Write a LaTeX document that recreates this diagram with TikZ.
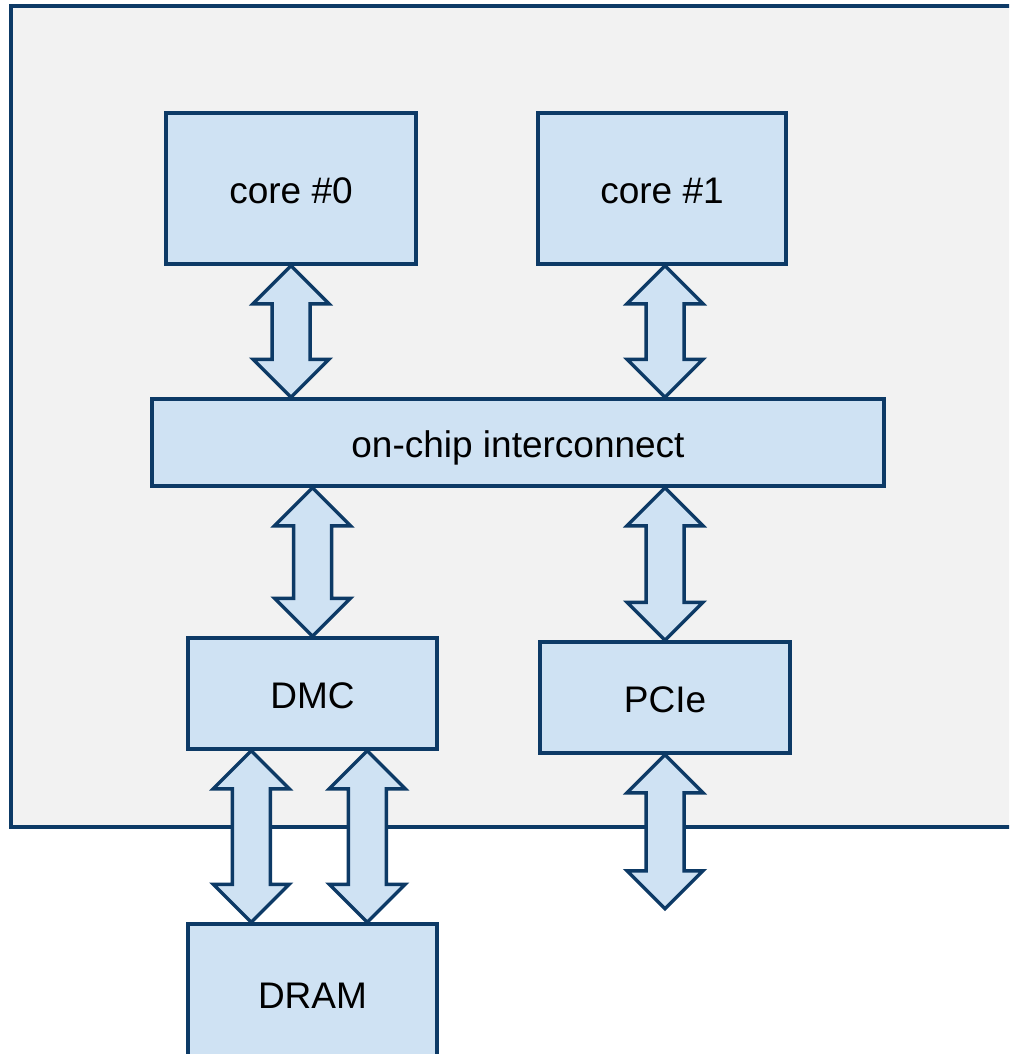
\documentclass[tikz,border=0pt]{standalone}
\usepackage{fontspec}
\setmainfont{Liberation Sans}
\usetikzlibrary{calc}
\definecolor{navy}{HTML}{0D3A66}
\definecolor{boxfill}{HTML}{CFE2F3}
\definecolor{chipfill}{HTML}{F2F2F2}
\tikzset{
  blk/.style={draw=navy, fill=boxfill, line width=3.5pt, rectangle, inner sep=0pt,
    text height=30pt, text depth=0pt, font=\fontsize{37}{44}\selectfont},
  dblarrow/.style={draw=navy, fill=boxfill, line width=3.5pt, line join=miter},
  chip/.style={draw=navy, fill=chipfill, line width=3.5pt},
}
\newcommand\dblarr[2]{\path[dblarrow] let \p1=#1, \p2=#2 in
  (\x1,\y1) -- (\x1+38pt,\y1-38pt) -- (\x1+19pt,\y1-38pt) -- (\x1+19pt,\y2+38pt)
  -- (\x1+38pt,\y2+38pt) -- (\x1,\y2) -- (\x1-38pt,\y2+38pt) -- (\x1-19pt,\y2+38pt)
  -- (\x1-19pt,\y1-38pt) -- (\x1-38pt,\y1-38pt) -- cycle;}
\begin{document}
\begin{tikzpicture}[x=1pt,y=-1pt]
\useasboundingbox (0,0) rectangle (1009,1054);
\fill[white] (0,0) rectangle (1009,1054);
\clip (0,0) rectangle (1009,1054);
\draw[chip] (11,6) rectangle (1030,827);

\node[blk, minimum width=250pt, minimum height=151pt] (c0) at (291,188.5) {core \#0};
\node[blk, minimum width=248pt, minimum height=151pt] (c1) at (662,188.5) {core \#1};
\node[blk, minimum width=732pt, minimum height=87pt] (ic) at (518,442.5) {on-chip interconnect};
\node[blk, minimum width=249pt, minimum height=111pt] (dmc) at (312.5,693.5) {DMC};
\node[blk, minimum width=250pt, minimum height=111pt] (pcie) at (665,697.5) {PCIe};
\node[blk, minimum width=249pt, minimum height=138pt] (dram) at (312.5,993) {DRAM};
\coordinate (pcieend) at ($(pcie.south)+(0,154)$);

\dblarr{(c0.south)}{(ic.north -| c0.south)}
\dblarr{($(c1.south)+(3,0)$)}{($(ic.north -| c1.south)+(3,0)$)}
\dblarr{(ic.south -| dmc.north)}{(dmc.north)}
\dblarr{(ic.south -| pcie.north)}{(pcie.north)}
\dblarr{($(dmc.south west)+(65,0)$)}{($(dram.north west)+(65,0)$)}
\dblarr{($(dmc.south west)+(181,0)$)}{($(dram.north west)+(181,0)$)}
\dblarr{(pcie.south)}{(pcieend)}
\end{tikzpicture}
\end{document}
